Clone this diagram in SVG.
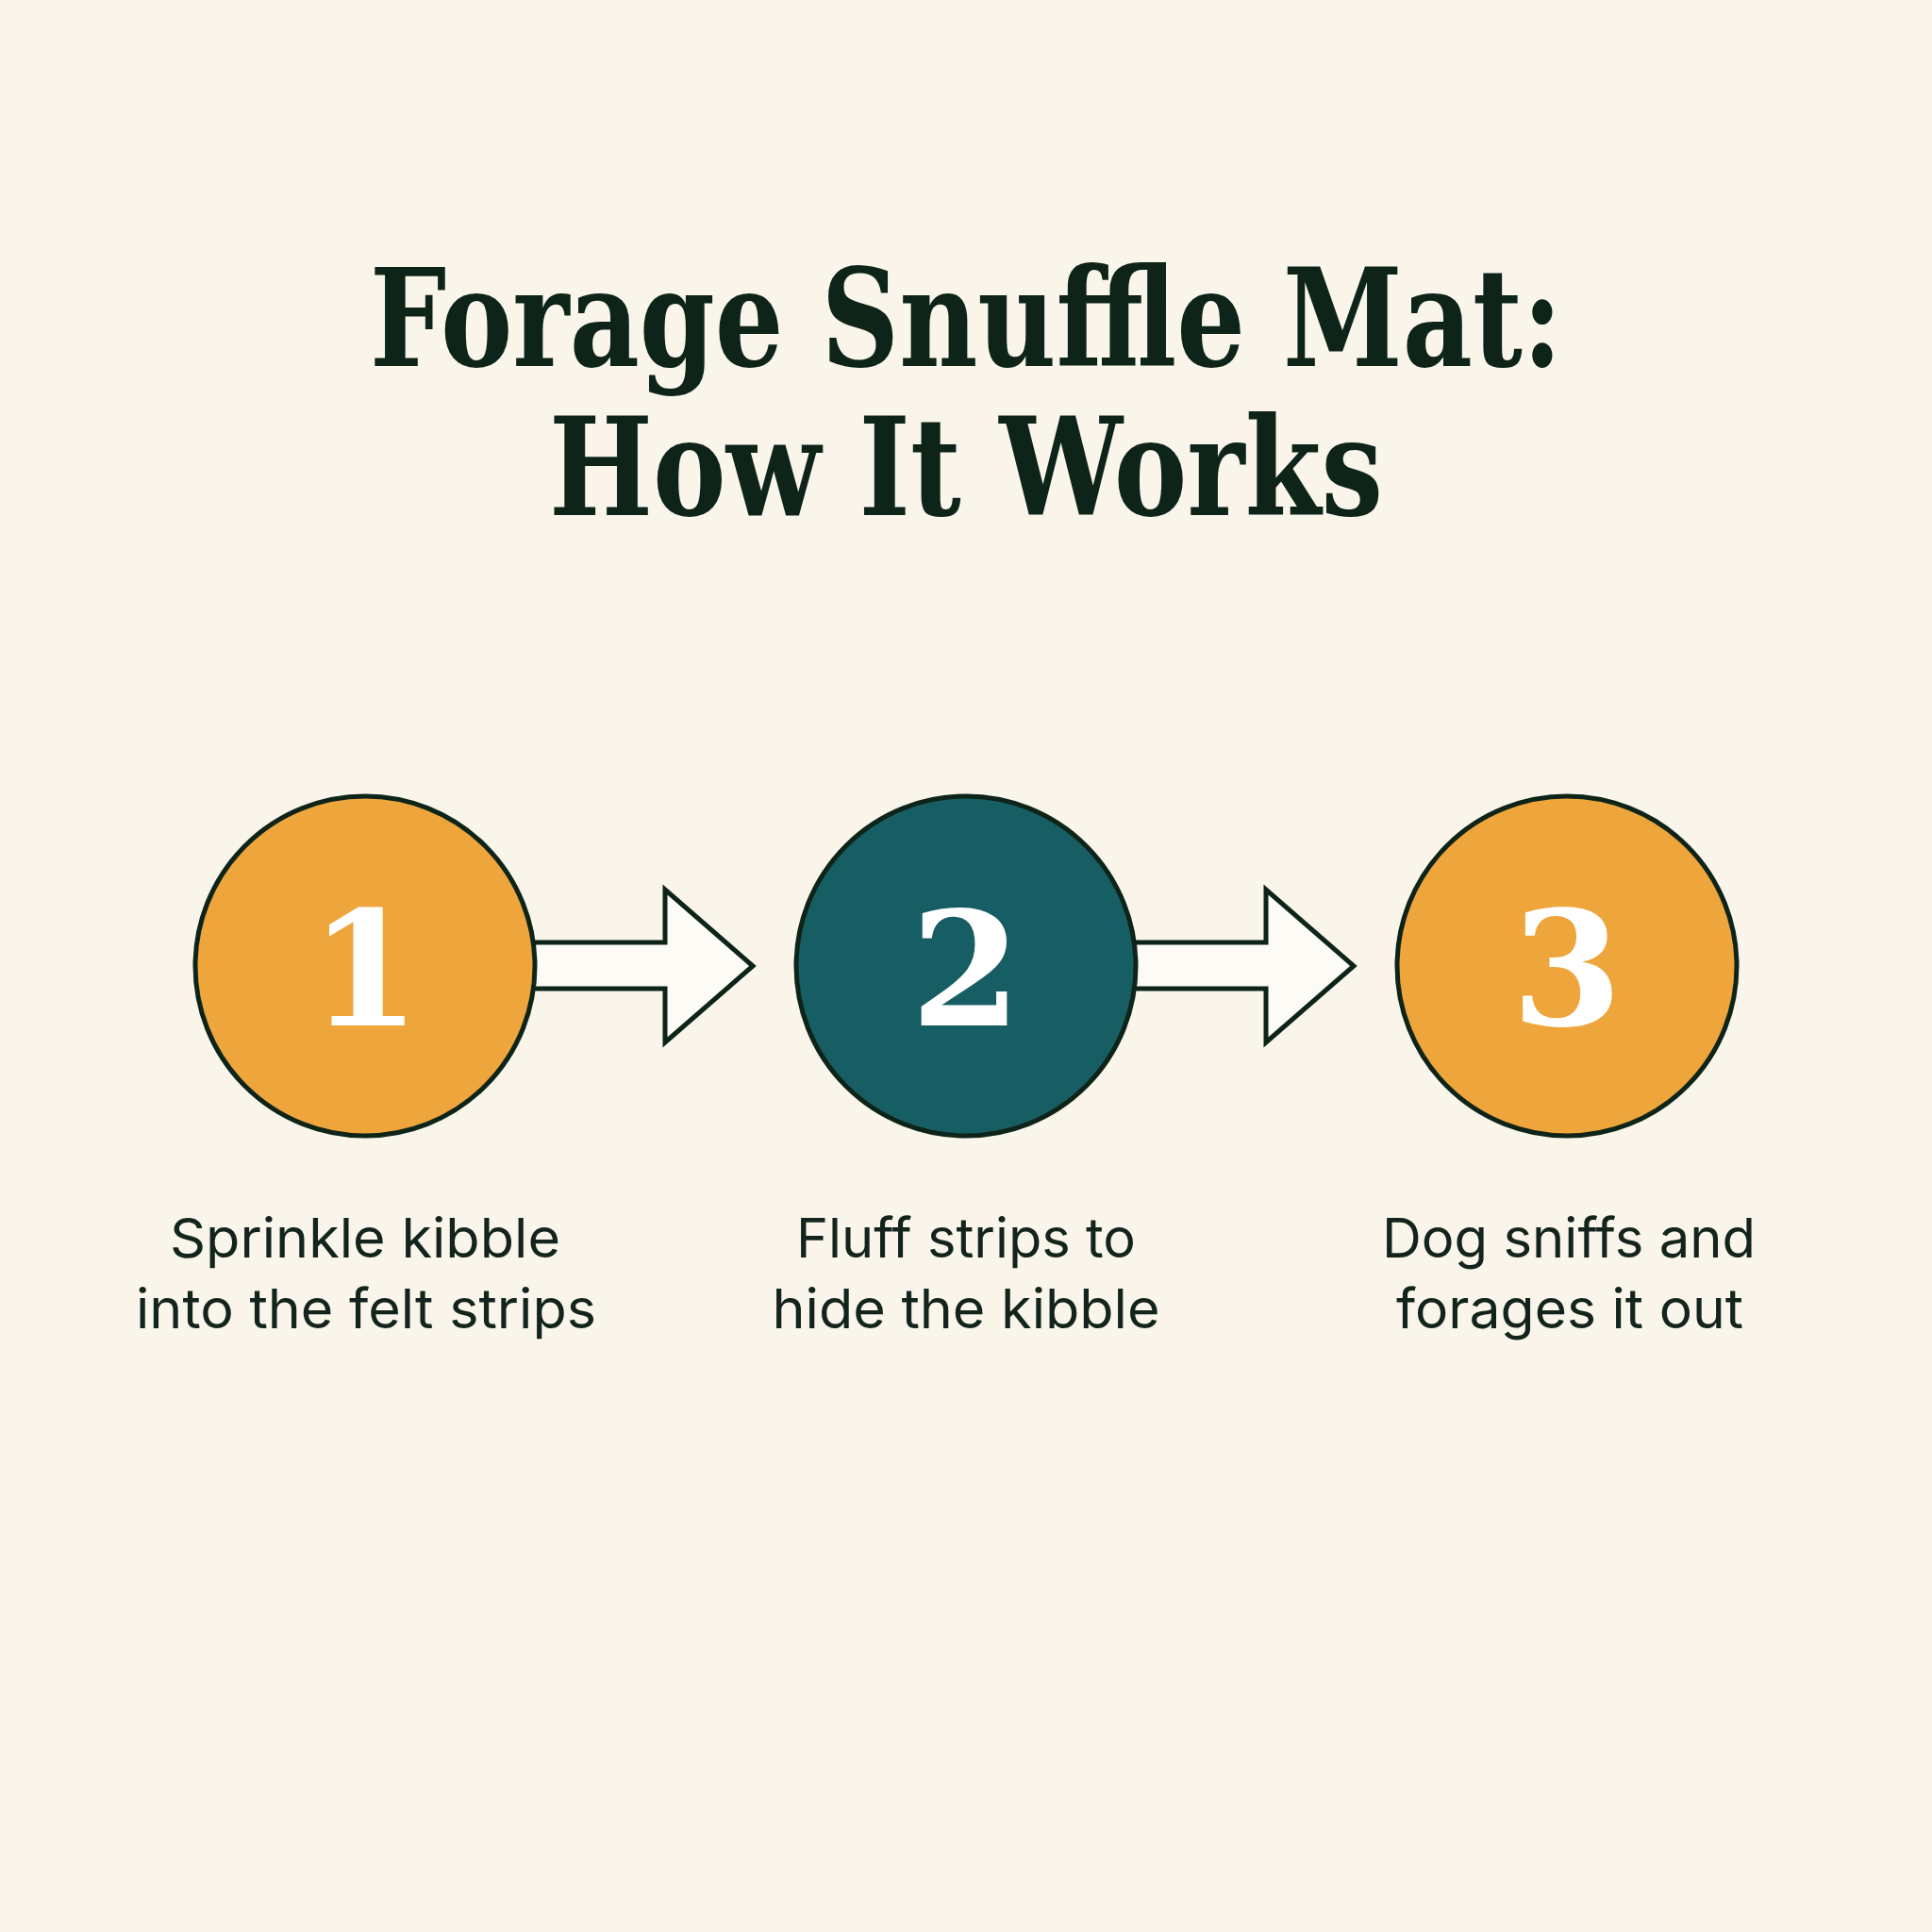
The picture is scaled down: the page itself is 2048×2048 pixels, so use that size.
<svg xmlns="http://www.w3.org/2000/svg" width="2048" height="2048" viewBox="0 0 2048 2048">
  <style>
    .title { font-family: "DejaVu Serif", "Liberation Serif", serif; font-weight: bold; font-size: 144px; fill: #0e2419; text-anchor: middle; }
    .num { font-family: "DejaVu Serif", "Liberation Serif", serif; font-weight: bold; font-size: 168px; fill: #ffffff; text-anchor: middle; }
    .label { font-family: Inter, "Noto Sans", "Liberation Sans", sans-serif; font-size: 58px; fill: #13241c; text-anchor: middle; }
    .circle { stroke: #0e2419; stroke-width: 5; }
    .orange { fill: #eea53b; }
    .teal { fill: #175e64; }
    .arrow { fill: #fcfbf6; stroke: #0e2419; stroke-width: 5; stroke-linejoin: miter; }
  </style>
  <rect x="0" y="0" width="2048" height="2048" fill="#f9f5ea"/>

  <g id="title">
    <text class="title" x="1024" y="388" textLength="1264" lengthAdjust="spacingAndGlyphs">Forage Snuffle Mat:</text>
    <text class="title" x="1024" y="546" textLength="884" lengthAdjust="spacingAndGlyphs">How It Works</text>
  </g>

  <g id="connectors">
    <polygon class="arrow" points="560,999 705,999 705,943 798,1024 705,1105 705,1048 560,1048"/>
    <polygon class="arrow" points="1197,999 1342,999 1342,943 1435,1024 1342,1105 1342,1048 1197,1048"/>
  </g>

  <g id="step1">
    <circle class="circle orange" cx="387" cy="1024" r="180"/>
    <text class="num" x="387" y="1087">1</text>
    <text class="label" x="387" y="1333" textLength="414" lengthAdjust="spacingAndGlyphs">Sprinkle kibble</text>
    <text class="label" x="388" y="1408" textLength="488" lengthAdjust="spacingAndGlyphs">into the felt strips</text>
  </g>

  <g id="step2">
    <circle class="circle teal" cx="1024" cy="1024" r="180"/>
    <text class="num" x="1024" y="1087">2</text>
    <text class="label" x="1024" y="1333" textLength="360" lengthAdjust="spacingAndGlyphs">Fluff strips to</text>
    <text class="label" x="1024" y="1408" textLength="411" lengthAdjust="spacingAndGlyphs">hide the kibble</text>
  </g>

  <g id="step3">
    <circle class="circle orange" cx="1661" cy="1024" r="180"/>
    <text class="num" x="1661" y="1087">3</text>
    <text class="label" x="1663" y="1333" textLength="396" lengthAdjust="spacingAndGlyphs">Dog sniffs and</text>
    <text class="label" x="1664" y="1408" textLength="368" lengthAdjust="spacingAndGlyphs">forages it out</text>
  </g>
</svg>
